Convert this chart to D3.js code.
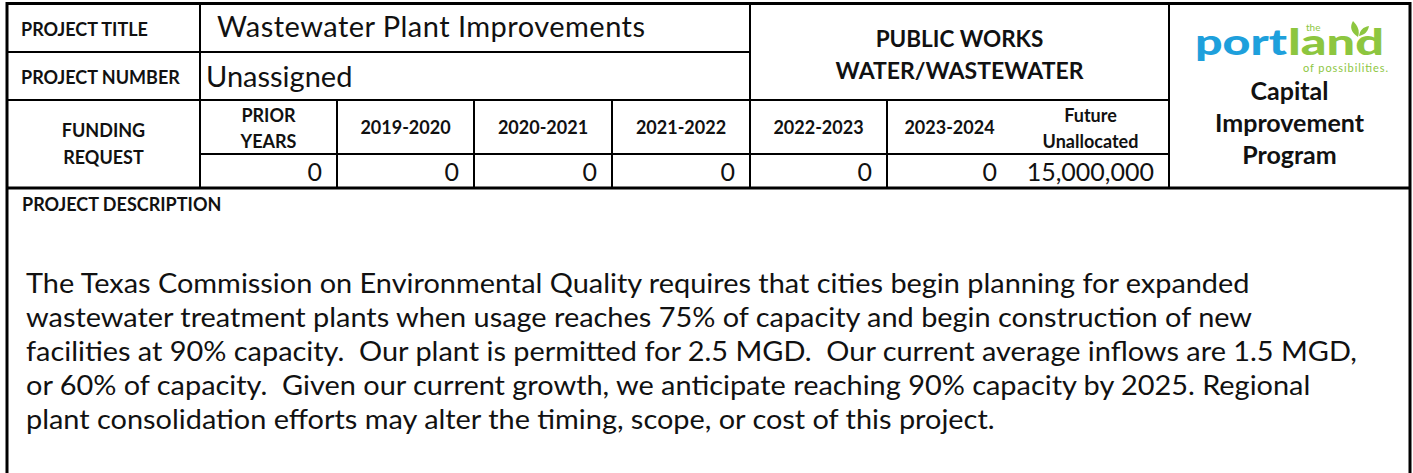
<!DOCTYPE html>
<html>
<head>
<meta charset="utf-8">
<script src="https://cdn.jsdelivr.net/npm/d3@7"></script>
<style>
  body { margin: 0; background: #fff; }
  text { font-family: Lato, "Open Sans", sans-serif; fill: #111; }
  .lbl { font-weight: 700; }
</style>
</head>
<body>
<div id="sheet"></div>
<script>
// project sheet data
var projectTitle = "Wastewater Plant Improvements";
var projectNumber = "Unassigned";
var department = ["PUBLIC WORKS", "WATER/WASTEWATER"];
var programName = ["Capital", "Improvement", "Program"];

var periods = ["PRIOR YEARS", "2019-2020", "2020-2021", "2021-2022", "2022-2023", "2023-2024", "Future Unallocated"];
var periodLabels = [["PRIOR", "YEARS"], ["2019-2020"], ["2020-2021"], ["2021-2022"], ["2022-2023"], ["2023-2024"], ["Future", "Unallocated"]];
var amounts = [0, 0, 0, 0, 0, 0, 15000000];

var description = [
	"The Texas Commission on Environmental Quality requires that cities begin planning for expanded",
	"wastewater treatment plants when usage reaches 75% of capacity and begin construction of new",
	"facilities at 90% capacity.  Our plant is permitted for 2.5 MGD.  Our current average inflows are 1.5 MGD,",
	"or 60% of capacity.  Given our current growth, we anticipate reaching 90% capacity by 2025. Regional",
	"plant consolidation efforts may alter the timing, scope, or cost of this project."
];

var width = 1413;
var height = 473;

var L = 7, R = 1410, T = 3.5;
var rowY = [T, 52, 100, 154, 188];
var colEdges = [200, 337, 474, 612, 750, 887, 1012, 1169];

var colLeft = d3.scaleOrdinal().domain(periods).range(colEdges.slice(0, 7));
var colRight = d3.scaleOrdinal().domain(periods).range(colEdges.slice(1));

var svg = d3.select('#sheet').append("svg")
	.attr("width", width)
	.attr("height", height);

function line(x1, y1, x2, y2, w){
	svg.append("line")
		.attr("x1", x1).attr("y1", y1)
		.attr("x2", x2).attr("y2", y2)
		.attr("stroke", "#000")
		.attr("stroke-width", w || 2);
}

// grid
line(L, T, R, T, 3);
line(L, T - 1.5, L, height, 3);
line(R, T - 1.5, R, height, 3);
line(L, rowY[1], colEdges[4], rowY[1]);
line(L, rowY[2], colEdges[7], rowY[2]);
line(colEdges[0], rowY[3], colEdges[7], rowY[3]);
line(L, rowY[4], R, rowY[4], 3);
line(colEdges[0], T, colEdges[0], rowY[4]);
line(colEdges[4], T, colEdges[4], rowY[4]);
line(colEdges[7], T, colEdges[7], rowY[4]);
periods.slice(1, 6).forEach(function(p){
	if (colLeft(p) !== colEdges[4]) line(colLeft(p), rowY[2], colLeft(p), rowY[4]);
});

// labels on the left
svg.append("text").attr("class", "lbl")
	.attr("x", 21).attr("y", 36)
	.style("font-size", "18px")
	.text("PROJECT TITLE");
svg.append("text").attr("class", "lbl")
	.attr("x", 21).attr("y", 84)
	.style("font-size", "18px")
	.text("PROJECT NUMBER");
svg.append("text").attr("class", "lbl")
	.attr("x", 103.5).attr("y", 137)
	.attr("text-anchor", "middle")
	.style("font-size", "18px")
	.text("FUNDING");
svg.append("text").attr("class", "lbl")
	.attr("x", 103.5).attr("y", 164)
	.attr("text-anchor", "middle")
	.style("font-size", "18px")
	.text("REQUEST");

svg.append("text")
	.attr("x", 217).attr("y", 37)
	.attr("textLength", 428).attr("lengthAdjust", "spacing")
	.style("font-size", "29px")
	.text(projectTitle);
svg.append("text")
	.attr("x", 206).attr("y", 87)
	.style("font-size", "29px")
	.text(projectNumber);

// department
svg.selectAll(".dept")
	.data(department)
	.enter()
	.append("text")
	.attr("class", "lbl dept")
	.attr("x", (colEdges[4] + colEdges[7]) / 2)
	.attr("y", function(d, i){ return 47 + i * 32; })
	.attr("text-anchor", "middle")
	.style("font-size", function(d, i){ return i ? "23px" : "22.5px"; })
	.text(function(d){ return d; });

// period headers
var head = svg.selectAll(".head")
	.data(periods)
	.enter()
	.append("text")
	.attr("class", "lbl head")
	.attr("text-anchor", "middle")
	.style("font-size", "18px");

head.selectAll("tspan")
	.data(function(d, i){
		var lines = periodLabels[i];
		return lines.map(function(t, j){ return {p: d, t: t, j: j, n: lines.length}; });
	})
	.enter()
	.append("tspan")
	.attr("x", function(d){ return (colLeft(d.p) + colRight(d.p)) / 2; })
	.attr("y", function(d){ return d.n === 1 ? 134 : 122 + d.j * 26; })
	.text(function(d){ return d.t; });

// amounts
svg.selectAll(".amt")
	.data(amounts)
	.enter()
	.append("text")
	.attr("class", "amt")
	.attr("x", function(d, i){ return colRight(periods[i]) - 15; })
	.attr("y", 181)
	.attr("text-anchor", "end")
	.style("font-size", "25px")
	.text(function(d){ return d3.format(",")(d); });

// logo
var logo = svg.append("g");
logo.append("text")
	.attr("x", 1195).attr("y", 55)
	.attr("textLength", 92).attr("lengthAdjust", "spacingAndGlyphs")
	.style("font-size", "36px").style("font-weight", 900)
	.style("fill", "#1ea0dc")
	.text("port");
logo.append("text")
	.attr("x", 1288).attr("y", 55)
	.attr("textLength", 96).attr("lengthAdjust", "spacingAndGlyphs")
	.style("font-size", "36px").style("font-weight", 900)
	.style("fill", "#8dc63f")
	.text("land");
logo.append("text")
	.attr("x", 1306).attr("y", 31)
	.style("font-size", "10px").style("fill", "#8dc63f")
	.text("the");
logo.append("text")
	.attr("x", 1303).attr("y", 72)
	.attr("textLength", 85)
	.style("font-size", "11px").style("fill", "#8dc63f")
	.text("of possibilities.");
logo.append("path")
	.attr("d", "M1358,37 C1350,32 1350,26 1353,21 C1358,26 1360,31 1358,37 Z")
	.style("fill", "#8dc63f");
logo.append("path")
	.attr("d", "M1359,36 C1360,30 1363,27 1369,26 C1368,32 1364,35 1359,36 Z")
	.style("fill", "#8dc63f");

svg.selectAll(".prog")
	.data(programName)
	.enter()
	.append("text")
	.attr("class", "lbl prog")
	.attr("x", (colEdges[7] + R) / 2)
	.attr("y", function(d, i){ return 100 + i * 32; })
	.attr("text-anchor", "middle")
	.style("font-size", "25px")
	.text(function(d){ return d; });

// description
svg.append("text").attr("class", "lbl")
	.attr("x", 22).attr("y", 211)
	.style("font-size", "18px")
	.text("PROJECT DESCRIPTION");

// the sheet's body text runs a little wide, so stretch each line a bit
var desc = svg.selectAll(".desc")
	.data(description)
	.enter()
	.append("text")
	.attr("class", "desc")
	.attr("x", 26)
	.attr("y", function(d, i){ return 293 + i * 34; })
	.style("font-size", "27px")
	.style("white-space", "pre")
	.text(function(d){ return d; });

desc.each(function(){
	var len = this.getComputedTextLength();
	d3.select(this)
		.attr("textLength", len * 1.07)
		.attr("lengthAdjust", "spacingAndGlyphs");
});
</script>
</body>
</html>
